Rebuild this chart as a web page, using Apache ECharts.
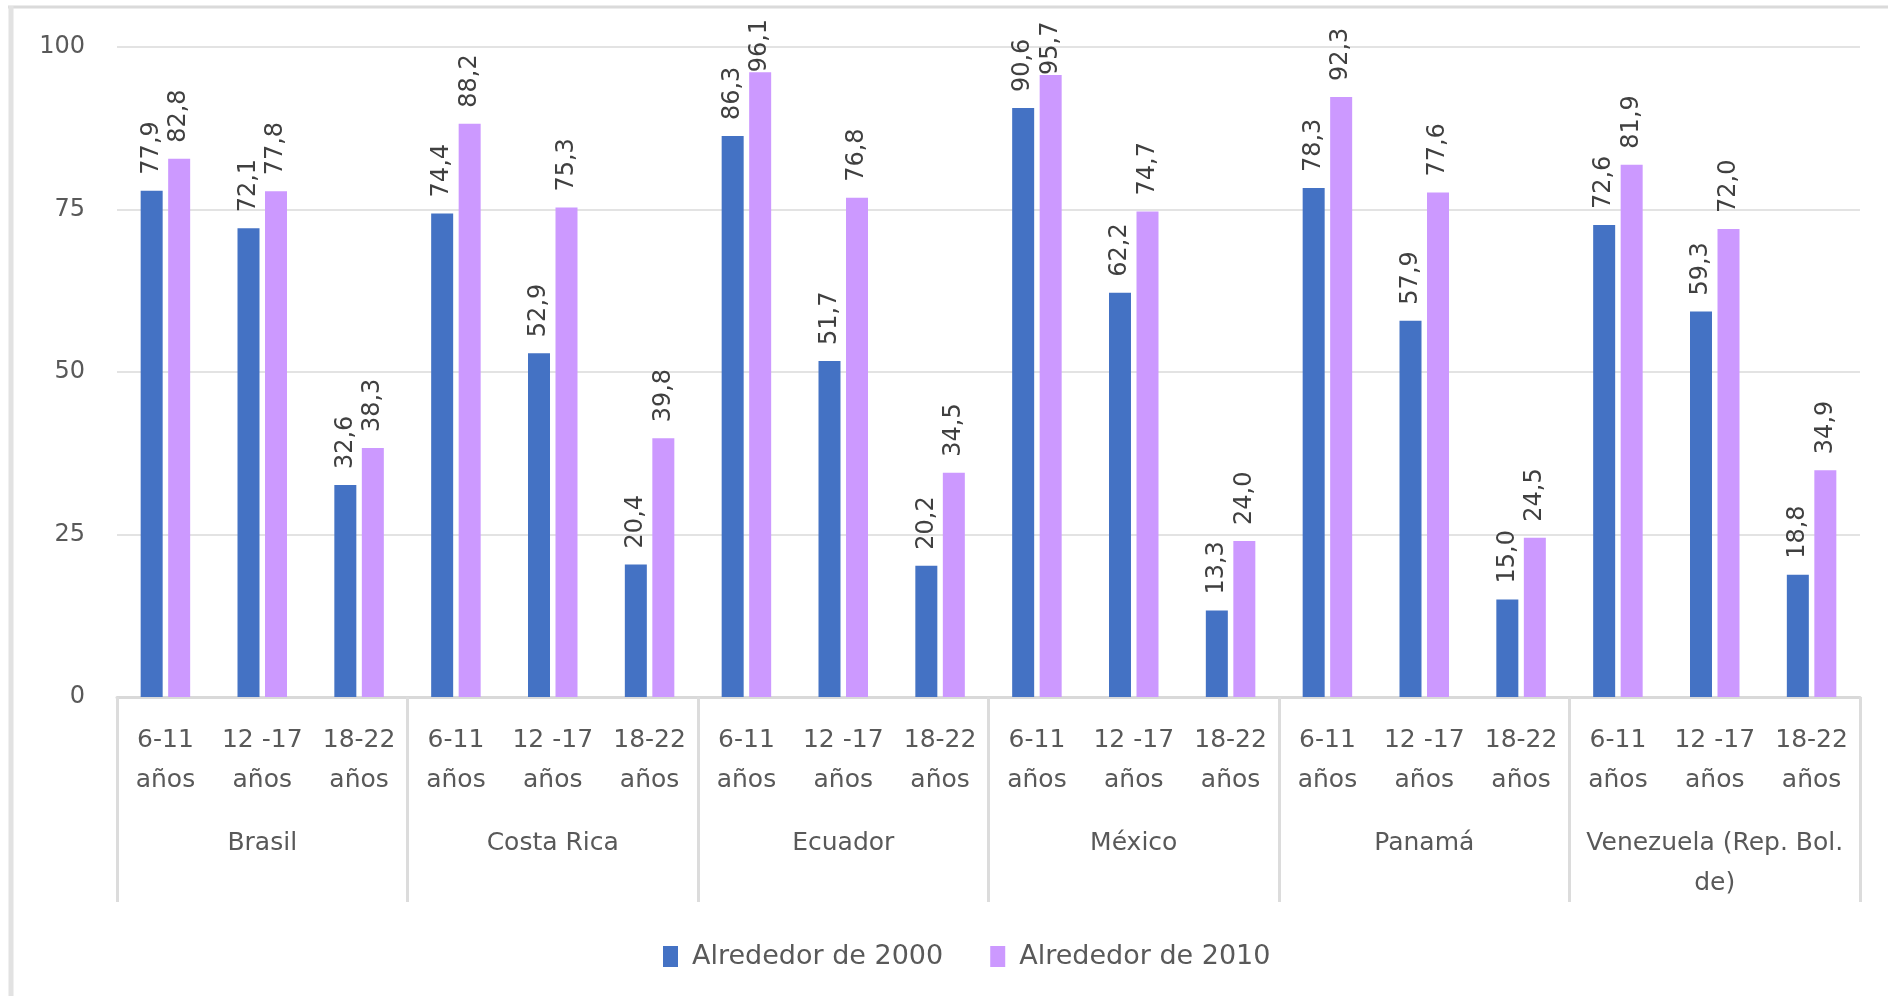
<!DOCTYPE html>
<html>
<head>
<meta charset="utf-8">
<script src="https://cdn.jsdelivr.net/npm/echarts@6/dist/echarts.min.js"></script>
<style>
  html, body { margin: 0; padding: 0; background: #fff; }
  #chart { width: 1888px; height: 996px; }
</style>
</head>
<body>
<div id="chart"></div>
<script>
const countries = ['Brasil', 'Costa Rica', 'Ecuador', 'México', 'Panamá', 'Venezuela (Rep. Bol.\nde)']
const ageGroups = ['6-11\naños', '12 -17\naños', '18-22\naños']
const seriesNames = ['Alrededor de 2000', 'Alrededor de 2010']
const yTicks = [0, 25, 50, 75, 100]

// valores por país, en el orden de ageGroups
const around2000 = [
	77.9, 72.1, 32.6,
	74.4, 52.9, 20.4,
	86.3, 51.7, 20.2,
	90.6, 62.2, 13.3,
	78.3, 57.9, 15.0,
	72.6, 59.3, 18.8
]
const around2010 = [
	82.8, 77.8, 38.3,
	88.2, 75.3, 39.8,
	96.1, 76.8, 34.5,
	95.7, 74.7, 24.0,
	92.3, 77.6, 24.5,
	81.9, 72.0, 34.9
]

const colors = ['#4472C4', '#CC99FF']
const textColor = '#595959'
const font = 'DejaVu Sans'

const subCategories = []
countries.forEach(() => ageGroups.forEach(g => subCategories.push(g)))

const fmt = (p) => p.value.toFixed(1).replace('.', ',')

const chart = echarts.init(document.getElementById('chart'))

// etiquetas de barras muy altas se pegan a la barra para no salirse del área
const makeSeries = (name, data, color) => ({
	name: name,
	type: 'bar',
	xAxisIndex: 0,
	data: data.map(v => v > 94 ? { value: v, label: { distance: 0 } } : v),
	barWidth: 22,
	barGap: '25%',
	itemStyle: { color: color },
	label: {
		show: true,
		position: 'top',
		rotate: 90,
		align: 'left',
		verticalAlign: 'middle',
		distance: 16,
		fontFamily: font,
		fontSize: 24,
		color: '#404040',
		formatter: fmt
	}
})

const option = {
	animation: false,
	backgroundColor: '#fff',
	textStyle: { fontFamily: font },
	grid: { left: 117, right: 28, top: 47, bottom: 299 },
	legend: {
		data: seriesNames,
		left: 658,
		top: 938,
		itemWidth: 15,
		itemHeight: 21,
		itemGap: 47,
		icon: 'rect',
		textStyle: { fontFamily: font, fontSize: 27, color: textColor, padding: [0, 0, 0, 9] }
	},
	xAxis: [
		{
			type: 'category',
			position: 'bottom',
			data: subCategories,
			axisLine: { show: true, lineStyle: { color: '#D9D9D9', width: 3 } },
			axisTick: { show: false },
			axisLabel: {
				interval: 0,
				margin: 23,
				lineHeight: 40,
				fontFamily: font,
				fontSize: 25,
				color: textColor
			}
		},
		{
			type: 'category',
			position: 'bottom',
			data: countries,
			axisLine: { show: false },
			axisTick: { show: true, length: 205, lineStyle: { color: '#DCDCDC', width: 3 } },
			axisLabel: {
				interval: 0,
				margin: 126,
				lineHeight: 40,
				fontFamily: font,
				fontSize: 25,
				color: textColor
			}
		}
	],
	yAxis: {
		type: 'value',
		min: yTicks[0],
		max: yTicks[yTicks.length - 1],
		interval: 25,
		axisLine: { show: false },
		axisTick: { show: false },
		splitLine: { lineStyle: { color: '#E3E3E3', width: 2 } },
		axisLabel: { margin: 32, fontFamily: font, fontSize: 24, color: textColor }
	},
	graphic: [
		{ type: 'line', shape: { x1: 8, y1: 7, x2: 1888, y2: 7 }, style: { stroke: '#DADADA', lineWidth: 3 } },
		{ type: 'line', shape: { x1: 11, y1: 6, x2: 11, y2: 996 }, style: { stroke: '#E2E2E2', lineWidth: 5 } }
	],
	series: [
		makeSeries(seriesNames[0], around2000, colors[0]),
		makeSeries(seriesNames[1], around2010, colors[1])
	]
}

chart.setOption(option)
</script>
</body>
</html>
